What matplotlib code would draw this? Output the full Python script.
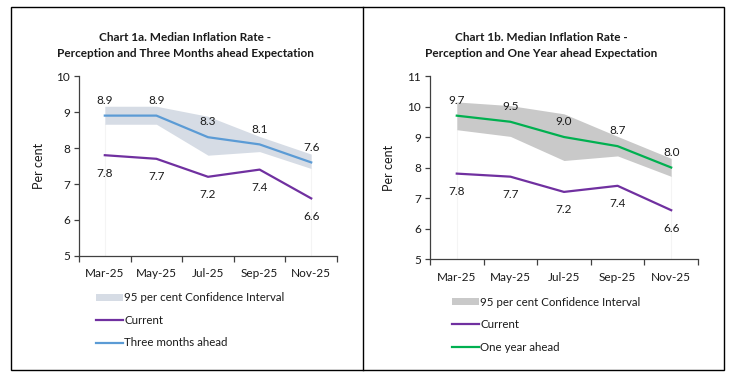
import matplotlib
matplotlib.use("Agg")
import matplotlib.pyplot as plt
from matplotlib.patches import Rectangle
from matplotlib.lines import Line2D
import numpy as np

plt.rcParams["font.family"] = ["Lato", "DejaVu Sans"]

months = ["Mar-25", "May-25", "Jul-25", "Sep-25", "Nov-25"]
current = [7.8, 7.7, 7.2, 7.4, 6.6]

three_months = [8.9, 8.9, 8.3, 8.1, 7.6]
three_ci_low = [8.66, 8.66, 7.80, 7.90, 7.43]
three_ci_high = [9.16, 9.16, 8.88, 8.32, 7.83]

one_year = [9.7, 9.5, 9.0, 8.7, 8.0]
year_ci_low = [9.24, 9.02, 8.23, 8.38, 7.71]
year_ci_high = [10.15, 10.03, 9.76, 9.02, 8.30]

PURPLE = "#7030A0"
BLUE = "#5B9BD5"
GREEN = "#00B050"
TXT = "#1a1a1a"


def draw_panel(ax, expect, lo, hi, exp_color, band_color, exp_label, ylim, legend_pos):
    x = np.arange(len(months))
    ax.fill_between(x, lo, hi, color=band_color, lw=0, label="95 per cent Confidence Interval")
    # faint drop lines at the ends of the area
    for i in (0, len(x) - 1):
        ax.plot([x[i], x[i]], [ylim[0], lo[i]], color="#F4F4F4", lw=0.8, zorder=0)
    ax.plot(x, current, color=PURPLE, lw=1.6, label="Current")
    ax.plot(x, expect, color=exp_color, lw=1.6, label=exp_label)

    for xi, v in zip(x, expect):
        ax.annotate(f"{v:.1f}", (xi, v), xytext=(0, 11), textcoords="offset points",
                    ha="center", va="center", fontsize=8.5, color=TXT)
    for xi, v in zip(x, current):
        ax.annotate(f"{v:.1f}", (xi, v), xytext=(0, -13), textcoords="offset points",
                    ha="center", va="center", fontsize=8.5, color=TXT)

    ax.set_xlim(-0.5, len(x) - 0.5)
    ax.set_ylim(*ylim)
    ax.set_yticks(np.arange(ylim[0], ylim[1] + 1))
    ax.set_xticks(x)
    ax.set_xticklabels(months)
    ax.set_xticks(np.arange(-0.5, len(x)), minor=True)
    ax.tick_params(axis="x", which="major", length=0, pad=9, labelsize=8.5, colors=TXT)
    ax.tick_params(axis="x", which="minor", length=4, width=0.9, direction="out", color="#404040")
    ax.tick_params(axis="y", length=3.5, width=0.9, labelsize=8.5, colors=TXT, pad=3)
    ax.tick_params(axis="y", color="#404040")
    for s in ("top", "right"):
        ax.spines[s].set_visible(False)
    for s in ("left", "bottom"):
        ax.spines[s].set_color("#404040")
        ax.spines[s].set_linewidth(0.9)
    ax.set_ylabel("Per cent", fontsize=9, color=TXT)
    ax.yaxis.set_label_coords(-0.13, 0.5)

    handles, labels = ax.get_legend_handles_labels()
    leg = ax.legend(handles, labels, loc="upper left", bbox_to_anchor=legend_pos,
                    bbox_transform=ax.figure.transFigure, frameon=False, fontsize=8.3,
                    handlelength=2.35, handleheight=0.6, handletextpad=0.1,
                    labelspacing=1.0, borderaxespad=0, borderpad=0)
    for t in leg.get_texts():
        t.set_color(TXT)


fig = plt.figure(figsize=(7.37, 3.73), dpi=100)

ax1 = fig.add_axes([0.1072, 0.3137, 0.3501, 0.4825])
draw_panel(ax1, three_months, three_ci_low, three_ci_high, BLUE, "#D6DCE5",
           "Three months ahead", (5, 10), (0.130, 0.216))
fig.text(0.251, 0.878, "Chart 1a. Median Inflation Rate -\nPerception and Three Months ahead Expectation",
         ha="center", va="center", fontsize=8.5, fontweight="bold", color=TXT, linespacing=1.45)

ax2 = fig.add_axes([0.5834, 0.3056, 0.3637, 0.4906])
draw_panel(ax2, one_year, year_ci_low, year_ci_high, GREEN, "#C9C9C9",
           "One year ahead", (5, 11), (0.613, 0.205))
fig.text(0.734, 0.878, "Chart 1b. Median Inflation Rate -\nPerception and One Year ahead Expectation",
         ha="center", va="center", fontsize=8.5, fontweight="bold", color=TXT, linespacing=1.45)

# outer frame and divider
fig.add_artist(Rectangle((0.0149, 0.008), 0.9675, 0.9732, transform=fig.transFigure,
                         fill=False, edgecolor="black", lw=1.0))
fig.add_artist(Line2D([0.4925, 0.4925], [0.008, 0.9812], transform=fig.transFigure,
                      color="black", lw=1.0))

fig.savefig("out.png", dpi=100)
